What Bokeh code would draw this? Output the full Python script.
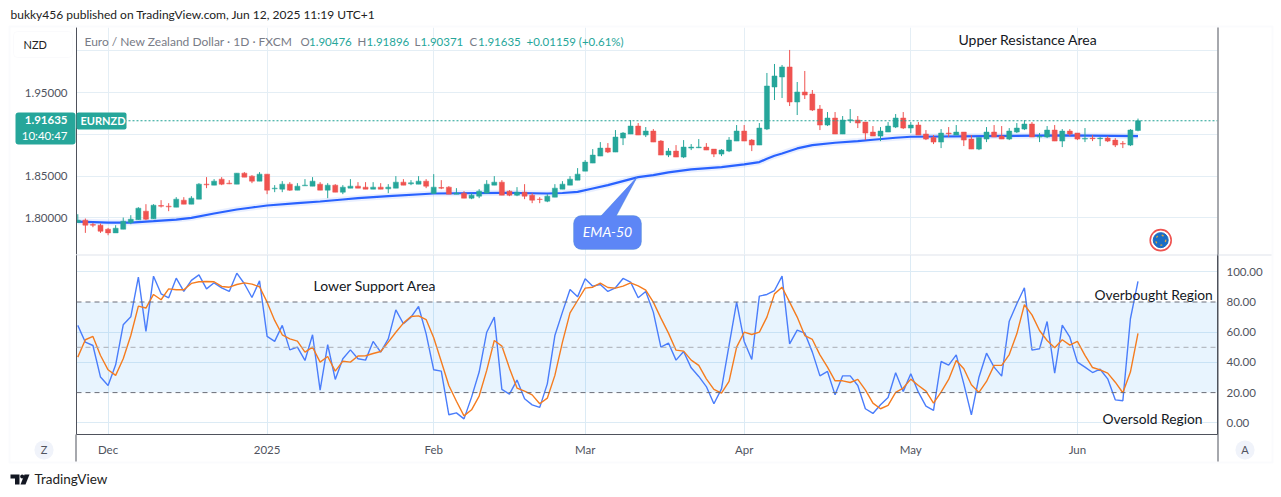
from bokeh.embed import file_html
from bokeh.resources import INLINE
from bokeh.layouts import column
from bokeh.models import (BoxAnnotation, FixedTicker, Label, LinearAxis, PolyAnnotation, Range1d, Span)
from bokeh.plotting import figure

FONT = "Lato"
GREEN = "#26a69a"
RED = "#ef5350"
GRID = "#e4eef5"
DARK = "#4f525c"

# ---------- data ----------
candle_up = ("GRRRRGGGGRGRRGRGGRGRRGRRGRGGRGGGRGRGGRRGRGGRGGRGRRGRGGGGRRGRRRGGGGGGGGRGGGRG"
             "RRGRGGGRRGGGRRGGGGRGRRRGRGGRRRGGGRGRRRGRGRRGGRRGGGRGGRGRRGRGRRRGG")
body_top = [1.7972,1.7972,1.7920,1.7912,1.7864,1.7876,1.7960,1.7984,1.8116,1.8080,
            1.8152,1.8148,1.8140,1.8224,1.8212,1.8236,1.8404,1.8404,1.8440,1.8464,
            1.8416,1.8536,1.8536,1.8500,1.8524,1.8524,1.8356,1.8404,1.8404,1.8380,
            1.8392,1.8440,1.8404,1.8392,1.8392,1.8368,1.8380,1.8380,1.8368,1.8368,
            1.8368,1.8368,1.8428,1.8428,1.8420,1.8440,1.8440,1.8368,1.8364,1.8368,
            1.8296,1.8296,1.8272,1.8320,1.8404,1.8428,1.8428,1.8320,1.8308,1.8308,
            1.8272,1.8224,1.8260,1.8356,1.8404,1.8464,1.8524,1.8668,1.8752,1.8836,
            1.8836,1.8968,1.9016,1.9100,1.9100,1.9040,1.9040,1.8920,1.8800,1.8800,
            1.8848,1.8848,1.8848,1.8848,1.8824,1.8812,1.8932,1.9040,1.9040,1.8932,
            1.9076,1.9580,1.9700,1.9808,1.9808,1.9508,1.9508,1.9484,1.9304,1.9196,
            1.9196,1.9172,1.9176,1.9172,1.9148,1.9028,1.9040,1.9100,1.9196,1.9196,
            1.9112,1.9112,1.9004,1.8964,1.9016,1.9016,1.9028,1.9028,1.8944,1.8964,
            1.9028,1.9028,1.8980,1.9040,1.9076,1.9124,1.9124,1.8976,1.9052,1.9052,
            1.9040,1.9040,1.9016,1.8952,1.8956,1.8956,1.8956,1.8932,1.8892,1.9052,1.91635]
body_bottom = [1.7944,1.7912,1.7912,1.7840,1.7820,1.7820,1.7864,1.7944,1.7976,1.7984,
               1.7988,1.8140,1.8132,1.8128,1.8164,1.8164,1.8224,1.8396,1.8392,1.8404,
               1.8408,1.8404,1.8488,1.8440,1.8440,1.8332,1.8348,1.8344,1.8332,1.8332,
               1.8384,1.8380,1.8332,1.8332,1.8308,1.8308,1.8356,1.8356,1.8344,1.8344,
               1.8344,1.8348,1.8356,1.8392,1.8408,1.8404,1.8380,1.8292,1.8356,1.8284,
               1.8284,1.8236,1.8236,1.8260,1.8296,1.8392,1.8272,1.8272,1.8272,1.8260,
               1.8212,1.8220,1.8200,1.8248,1.8344,1.8392,1.8452,1.8560,1.8656,1.8740,
               1.8788,1.8788,1.8956,1.9004,1.8992,1.8992,1.8908,1.8752,1.8752,1.8728,
               1.8728,1.8836,1.8840,1.8812,1.8764,1.8764,1.8800,1.8920,1.8920,1.8872,
               1.8872,1.9064,1.9568,1.9688,1.9388,1.9388,1.9472,1.9292,1.9112,1.9112,
               1.9004,1.9004,1.9164,1.9136,1.9016,1.8980,1.8980,1.9028,1.9088,1.9076,
               1.9076,1.8992,1.8944,1.8908,1.8908,1.9008,1.8992,1.8932,1.8824,1.8824,
               1.8944,1.8968,1.8944,1.8944,1.9028,1.9064,1.8968,1.8968,1.8968,1.8920,
               1.8920,1.9004,1.8944,1.8944,1.8948,1.8948,1.8920,1.8872,1.8884,1.8872,1.90476]
wick_high = [1.8044,1.7992,1.7940,1.7932,1.7880,1.7912,1.8004,1.8032,1.8128,1.8164,
             1.8164,1.8212,1.8176,1.8248,1.8248,1.8260,1.8416,1.8488,1.8464,1.8488,
             1.8452,1.8536,1.8548,1.8512,1.8548,1.8524,1.8392,1.8440,1.8428,1.8416,
             1.8464,1.8488,1.8428,1.8416,1.8404,1.8392,1.8464,1.8428,1.8428,1.8428,
             1.8416,1.8404,1.8500,1.8464,1.8452,1.8500,1.8464,1.8524,1.8452,1.8380,
             1.8356,1.8320,1.8296,1.8344,1.8452,1.8500,1.8452,1.8332,1.8368,1.8404,
             1.8296,1.8248,1.8284,1.8404,1.8440,1.8500,1.8596,1.8692,1.8824,1.8908,
             1.8896,1.9052,1.9028,1.9172,1.9136,1.9088,1.9064,1.8932,1.8836,1.8872,
             1.8932,1.8884,1.8944,1.8896,1.8824,1.8824,1.8968,1.9112,1.9112,1.8944,
             1.9136,1.9736,1.9844,1.9832,2.0012,1.9628,1.9760,1.9532,1.9352,1.9268,
             1.9268,1.9220,1.9304,1.9220,1.9148,1.9100,1.9088,1.9148,1.9244,1.9268,
             1.9148,1.9148,1.9052,1.8992,1.9064,1.9088,1.9112,1.9028,1.8992,1.8964,
             1.9088,1.9112,1.9100,1.9076,1.9136,1.9172,1.9148,1.9016,1.9100,1.9112,
             1.9064,1.9064,1.9016,1.9076,1.8992,1.8968,1.8980,1.8956,1.8920,1.9064,1.91896]
wick_low = [1.7940,1.7820,1.7888,1.7820,1.7792,1.7820,1.7864,1.7924,1.7976,1.7972,
            1.7988,1.8124,1.8080,1.8128,1.8164,1.8164,1.8224,1.8356,1.8392,1.8392,
            1.8404,1.8404,1.8488,1.8416,1.8440,1.8284,1.8308,1.8308,1.8324,1.8332,
            1.8384,1.8380,1.8332,1.8236,1.8308,1.8284,1.8356,1.8356,1.8344,1.8344,
            1.8344,1.8296,1.8356,1.8392,1.8392,1.8404,1.8356,1.8292,1.8344,1.8284,
            1.8284,1.8236,1.8224,1.8236,1.8296,1.8392,1.8272,1.8260,1.8260,1.8224,
            1.8176,1.8176,1.8188,1.8248,1.8344,1.8392,1.8452,1.8560,1.8656,1.8740,
            1.8776,1.8788,1.8872,1.9004,1.8992,1.8968,1.8908,1.8752,1.8728,1.8728,
            1.8716,1.8812,1.8836,1.8812,1.8728,1.8740,1.8788,1.8920,1.8920,1.8800,
            1.8872,1.9052,1.9412,1.9436,1.9340,1.9232,1.9424,1.9280,1.9052,1.9100,
            1.9004,1.9004,1.9136,1.9076,1.8932,1.8980,1.8920,1.9028,1.9076,1.9064,
            1.9016,1.8992,1.8932,1.8884,1.8836,1.8968,1.8992,1.8860,1.8824,1.8812,
            1.8908,1.8968,1.8944,1.8932,1.9016,1.9052,1.8968,1.8908,1.8956,1.8920,
            1.8848,1.8980,1.8932,1.8908,1.8920,1.8860,1.8908,1.8848,1.8836,1.8860,1.90371]
ema_index = [0,4,7,10,13,15,18,21,23,25,29,32,35,37,41,47,56,62,64,66,68,70,72,74,76,78,81,85,88,90,91,92,93,95,97,100,103,105,108,110,120,130,140]
ema_value = [1.7956,1.7944,1.7944,1.7960,1.7980,1.8000,1.8052,1.8100,1.8124,1.8148,1.8176,1.8196,1.8220,1.8236,
             1.8260,1.8292,1.8300,1.8292,1.8298,1.8312,1.8352,1.8392,1.8440,1.8488,1.8512,1.8545,1.8580,1.8608,1.8640,
             1.8668,1.8708,1.8744,1.8772,1.8832,1.8872,1.8900,1.8920,1.8936,1.8960,1.8972,1.8980,1.8988,1.8980]
stoch_k = [64.5,53.4,51.2,30.3,24.7,38.4,64.9,70.2,96.5,60.5,97.1,85.4,82.8,95.8,87.0,94.3,98.0,88.7,92.7,89.4,
           87.0,99.1,92.1,83.0,94.0,57.2,53.9,64.5,48.3,50.1,41.3,58.3,21.6,51.7,28.7,42.4,48.3,42.4,41.5,53.9,
           46.8,55.6,74.8,65.6,70.0,77.0,58.9,35.1,34.2,5.3,6.6,2.6,17.0,33.6,60.0,70.0,22.1,19.0,28.3,15.9,
           11.9,10.2,25.8,57.8,73.3,88.3,83.4,95.4,90.5,91.6,87.0,89.4,95.6,93.2,82.8,87.0,73.3,50.1,52.8,41.5,
           47.2,36.4,30.7,24.0,12.6,22.5,51.2,79.9,53.9,41.9,83.9,85.0,87.6,97.1,52.3,61.4,59.4,46.8,31.1,34.0,
           18.5,31.1,31.1,24.7,9.3,6.2,11.9,16.8,33.1,20.8,32.5,20.3,11.0,8.2,40.6,38.2,45.0,25.8,5.3,30.2,
           46.1,36.9,30.9,67.3,78.8,89.4,48.1,49.0,67.1,32.9,64.7,56.7,40.2,36.9,33.3,35.5,29.1,15.2,14.6,68.9,93.6]
stoch_d = [43.5,55.0,57.2,44.6,35.1,31.4,42.4,57.8,77.3,76.0,85.0,81.5,88.7,88.1,88.1,92.3,93.4,93.6,93.4,90.3,
           89.8,91.6,92.7,91.8,90.1,79.9,67.8,58.3,55.6,54.1,46.8,50.1,40.2,43.9,34.2,40.8,40.2,44.2,44.4,45.9,
           47.2,53.4,60.0,66.0,70.4,70.8,68.4,56.3,40.6,24.7,14.3,4.6,8.6,17.7,34.7,54.5,50.8,36.2,23.0,21.0,
           18.5,12.6,16.3,31.4,53.4,72.8,81.0,89.2,89.8,92.5,89.6,89.2,90.5,92.7,90.7,87.9,79.9,69.3,59.4,48.1,
           47.5,41.5,38.0,29.1,22.1,19.6,27.4,50.1,60.0,58.5,60.0,70.0,85.4,89.8,79.9,70.0,57.8,55.2,45.0,36.9,
           27.8,27.8,26.7,28.7,21.8,13.0,9.3,11.5,20.1,23.0,28.9,24.7,21.0,13.0,20.3,28.7,41.3,35.8,25.2,20.1,
           27.4,38.0,38.0,45.2,58.9,78.2,71.5,61.1,54.5,49.7,55.0,51.4,53.9,44.6,36.6,35.1,32.9,26.9,19.9,33.6,59.2]
date_ticks = [4, 25, 47, 67, 88, 110, 132]
date_labels = ["Dec", "2025", "Feb", "Mar", "Apr", "May", "Jun"]
price_ticks = [1.80, 1.85, 1.90, 1.95, 2.00]
price_labels = ["1.80000", "1.85000", "", "1.95000", ""]
stoch_ticks = [0, 20, 40, 60, 80, 100]
stoch_labels = ["0.00", "20.00", "40.00", "60.00", "80.00", "100.00"]
stoch_grid = [0, 40, 60, 100]
last_close = 1.91635

n = len(body_top)
idx = list(range(n))
colors = [GREEN if c == "G" else RED for c in candle_up]

X_RANGE = (-0.17, 150.5)
P1H, P2H = 254, 243
AXIS_STYLE = dict(major_tick_line_color=None, minor_tick_line_color=None, major_tick_out=0, major_tick_in=0,
                  axis_line_color=DARK, major_label_text_font=FONT, major_label_text_font_size="11.5px",
                  major_label_text_color="#50535e")


def make_fig(height, y_range, mb_top, mb_bottom):
    return figure(width=1281, height=height, output_backend="svg", toolbar_location=None,
                  x_range=Range1d(*X_RANGE), y_range=Range1d(*y_range),
                  min_border_left=76, min_border_right=64, min_border_top=mb_top, min_border_bottom=mb_bottom,
                  x_axis_location=None, y_axis_location=None, outline_line_color=None,
                  border_fill_color="white", background_fill_color="white")


# ---------- price pane ----------
p1 = make_fig(P1H, (1.7561, 2.0281), 27, 0)
p1.add_layout(LinearAxis(ticker=FixedTicker(ticks=price_ticks), major_label_overrides=dict(zip(price_ticks, price_labels)),
                         major_label_standoff=9, **AXIS_STYLE), "left")
for g, t in ((p1.xgrid, date_ticks), (p1.ygrid, price_ticks)):
    g.ticker = FixedTicker(ticks=t)
    g.grid_line_color = GRID
    g.grid_line_width = 1

p1.add_layout(Span(location=last_close, dimension="width", line_color="#1fa093", line_dash=[2, 2], line_width=1))
p1.line(ema_index, ema_value, line_color="#2962ff", line_width=6, line_alpha=0.10)
p1.line(ema_index, ema_value, line_color="#2962ff", line_width=2.2)
p1.segment(idx, wick_high, idx, wick_low, line_color=colors, line_width=1)
p1.vbar(idx, 0.66, body_bottom, body_top, fill_color=colors, line_color=colors, line_width=0.5)

# EU badge
p1.scatter([143], [1.7733], size=21, fill_color="white", line_color="#ef5350", line_width=1.6)
p1.scatter([143], [1.7733], size=15, fill_color="#1c6cc4", line_color="#1c6cc4")
p1.scatter([143], [1.7733], size=10, fill_color=None, line_color="#d9a441", line_width=1.4, line_dash="dotted")

# ---------- oscillator pane ----------
p2 = make_fig(P2H, (-7.75, 111.46), 0, 63)
p2.add_layout(LinearAxis(ticker=FixedTicker(ticks=date_ticks), major_label_overrides=dict(zip(date_ticks, date_labels)),
                         major_label_standoff=8, **AXIS_STYLE), "below")
p2.add_layout(LinearAxis(ticker=FixedTicker(ticks=stoch_ticks), major_label_overrides=dict(zip(stoch_ticks, stoch_labels)),
                         major_label_standoff=9, **AXIS_STYLE), "right")
left_style = dict(AXIS_STYLE, major_label_text_font_size="0px")
p2.add_layout(LinearAxis(ticker=FixedTicker(ticks=[]), **left_style), "left")
for g, t in ((p2.xgrid, date_ticks), (p2.ygrid, stoch_grid)):
    g.ticker = FixedTicker(ticks=t)
    g.grid_line_color = "#dcebf5"
    g.grid_line_width = 1

p2.add_layout(BoxAnnotation(bottom=20, top=80, fill_color="#2196f3", fill_alpha=0.1, line_color=None, level="underlay"))
for lv, col in ((80, "#6a6d78"), (20, "#6a6d78"), (50, "#a9adb5")):
    p2.add_layout(Span(location=lv, dimension="width", line_color=col, line_dash=[5, 4], line_width=1))
p2.line(idx, stoch_k, line_color="#4a7dfb", line_width=1.4)
p2.line(idx, stoch_d, line_color="#f57c1f", line_width=1.4)

# ---------- page overlay: frame, tags, header, notes ----------
ov = figure(width=1281, height=497, output_backend="svg", toolbar_location=None,
            x_range=Range1d(0, 1281), y_range=Range1d(497, 0),
            min_border_left=0, min_border_right=0, min_border_top=0, min_border_bottom=0,
            x_axis_location=None, y_axis_location=None, outline_line_color=None,
            border_fill_color=None, background_fill_color=None,
            styles={"position": "absolute", "left": "0px", "top": "0px"})
ov.grid.visible = False


def cbox(left, right, top, bottom, fill="#000000", line=None, lw=1, radius=0):
    ov.add_layout(BoxAnnotation(left=left, right=right, top=top, bottom=bottom,
                                left_units="canvas", right_units="canvas", top_units="canvas", bottom_units="canvas",
                                fill_color=fill, fill_alpha=1.0 if fill else 0, line_color=line, line_width=lw,
                                border_radius=radius, level="annotation", editable=False))


def text(x, y, s, size=12, color="#131722", align="left", style="normal"):
    ov.add_layout(Label(x=x, y=y - 1, x_units="canvas", y_units="canvas", text=s, text_font=FONT,
                        text_font_size=f"{size}px", text_color=color, text_align=align, text_baseline="middle",
                        text_font_style=style))


# logo marks
ov.patch([10, 19, 19, 14.5, 14.5, 10], [474, 474, 484, 484, 478, 478], fill_color="#131722", line_color=None)
ov.patch([24, 29, 25, 20], [474, 474, 484, 484], fill_color="#131722", line_color=None)
ov.scatter([21.7], [476], size=4, fill_color="#131722", line_color=None)

# frame
cbox(9, 1272, 26, 462, fill=None, line="#f0f3fa", lw=2)
cbox(1217, 1218, 27, 461, fill=DARK)
cbox(75, 76, 434, 461, fill=DARK)
cbox(76, 1217, 254, 255, fill="#e0e3eb")
cbox(1218, 1271, 254, 255, fill="#e0e3eb")

# callout
ov.add_layout(PolyAnnotation(xs=[599, 637, 615], ys=[217, 176, 217], xs_units="canvas", ys_units="canvas",
                             fill_color="#5d86f6", fill_alpha=1, line_color="#4c8fc4", line_width=1, level="annotation"))
cbox(573, 641, 215, 249, fill="#5d86f6", line="#4c8fc4", radius=8)
ov.add_layout(PolyAnnotation(xs=[600, 637, 614], ys=[216.5, 176, 216.5], xs_units="canvas", ys_units="canvas",
                             fill_color="#5d86f6", fill_alpha=1, line_color=None, level="annotation"))
text(607, 232, "EMA-50", size=14, color="white", align="center", style="italic")

# price tags
cbox(15, 75, 112, 144, fill=GREEN, radius=3)
cbox(76, 126, 112, 129, fill=GREEN, radius=2)
text(67, 120.5, "1.91635", size=11.5, color="white", align="right", style="bold")
text(67, 135.5, "10:40:47", size=11.5, color="white", align="right")
text(80, 120.5, "EURNZD", size=11, color="white", style="bold")

# header
text(10, 15, "bukky456 published on TradingView.com, Jun 12, 2025 11:19 UTC+1", size=12, color="#222222")
cbox(13, 72, 31, 57, fill="white", line="#eef0f5", radius=4)
text(23, 44.5, "NZD", size=11, color="#222222")
HG = "#787b86"
text(84, 42, "Euro / New Zealand Dollar \u00b7 1D \u00b7 FXCM", size=12, color=HG)
for x, lab, x2, val in ((300, "O", 308.5, "1.90476"), (357, "H", 366, "1.91896"), (414, "L", 420, "1.90371"), (469, "C", 477.5, "1.91635")):
    text(x, 42, lab, size=11.5, color=HG)
    text(x2, 42, val, size=11.5, color=GREEN)
text(526, 42, "+0.01159 (+0.61%)", size=11.5, color=GREEN)

# notes
text(958, 39.5, "Upper Resistance Area", size=14)
text(313, 286, "Lower Support Area", size=14)
text(1094, 294.5, "Overbought Region", size=13.8)
text(1102, 418.5, "Oversold Region", size=13.8)

# axis buttons
cbox(34, 53, 440, 459, fill="#f0f3fa", radius=9)
text(43.5, 450, "Z", size=11, color="#50535e", align="center")
cbox(1235, 1254, 440, 459, fill="#f0f3fa", radius=9)
text(1244.5, 450, "A", size=11, color="#50535e", align="center")

text(34, 479.5, "TradingView", size=13.5, color="#222222")

root = column(p1, p2, spacing=0, styles={"position": "absolute", "left": "0px", "top": "0px"})
open("out.html", "w").write(file_html([root, ov], INLINE))
